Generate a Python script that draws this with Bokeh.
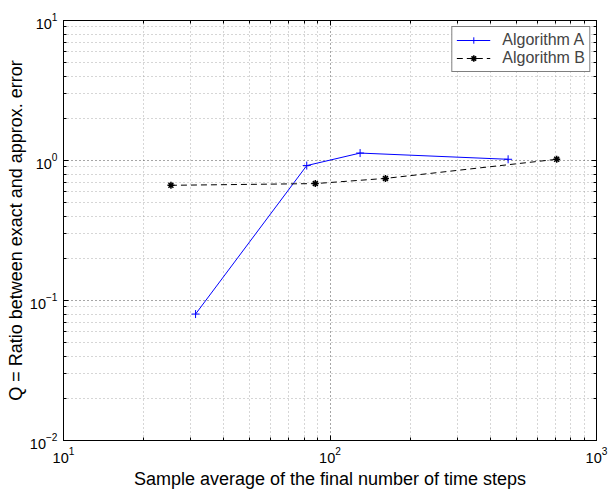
from bokeh.plotting import figure
from bokeh.models import LogAxis, FixedTicker, Legend, LegendItem, Range1d
from bokeh.embed import file_html
from bokeh.resources import INLINE

# Data
alg_a_x = [31.3, 81.8, 129.7, 466.0]
alg_a_y = [0.080, 0.92, 1.13, 1.02]
alg_b_x = [25.3, 88.1, 161.5, 709.0]
alg_b_y = [0.665, 0.684, 0.745, 1.02]

x_major = [10, 100, 1000]
x_minor = [20, 30, 40, 50, 60, 70, 80, 90, 200, 300, 400, 500, 600, 700, 800, 900]
y_major = [0.01, 0.1, 1, 10]
y_minor = [0.02, 0.03, 0.04, 0.05, 0.06, 0.07, 0.08, 0.09,
           0.2, 0.3, 0.4, 0.5, 0.6, 0.7, 0.8, 0.9,
           2, 3, 4, 5, 6, 7, 8, 9]

x_label = "Sample average of the final number of time steps"
y_label = "Q = Ratio between exact and approx. error"
legend_labels = ["Algorithm A", "Algorithm B"]

FONT = "Liberation Sans"

p = figure(width=611, height=491, x_axis_type="log", y_axis_type="log",
           x_range=Range1d(10, 1000), y_range=Range1d(0.01, 10),
           output_backend="svg", toolbar_location=None,
           min_border_left=63, min_border_right=15, min_border_top=20, min_border_bottom=48)

p.outline_line_color = "black"
p.outline_line_width = 1
p.background_fill_color = "white"
p.border_fill_color = "white"

def xt():
    return FixedTicker(ticks=x_major, minor_ticks=x_minor)

def yt():
    return FixedTicker(ticks=y_major, minor_ticks=y_minor)

for ax in p.xaxis + p.yaxis:
    ax.major_tick_in = 5
    ax.major_tick_out = 0
    ax.minor_tick_in = 3
    ax.minor_tick_out = 0
    ax.axis_line_color = "black"
    ax.major_tick_line_color = "black"
    ax.minor_tick_line_color = "black"
    ax.major_label_text_font = FONT
    ax.major_label_text_font_size = "14.5px"
    ax.major_label_text_color = "black"
    ax.axis_label_text_font = FONT
    ax.axis_label_text_font_size = "18px"
    ax.axis_label_text_font_style = "normal"
    ax.axis_label_text_color = "black"

p.xaxis.axis_label = x_label
p.yaxis.axis_label = y_label
p.xaxis.ticker = xt()
p.yaxis.ticker = yt()
p.xaxis.major_label_standoff = 6
p.xaxis.axis_label_standoff = 3
p.yaxis.major_label_standoff = 6
p.yaxis.axis_label_standoff = 1

# Right and top axes (ticks only)
for loc, tk in [("right", yt()), ("above", xt())]:
    ax = LogAxis(ticker=tk)
    ax.major_tick_in = 5
    ax.major_tick_out = 0
    ax.minor_tick_in = 3
    ax.minor_tick_out = 0
    ax.major_label_text_font_size = "0px"
    ax.major_label_text_color = None
    ax.axis_line_color = "black"
    ax.major_label_standoff = 0
    p.add_layout(ax, loc)

p.xgrid[0].ticker = xt()
p.ygrid[0].ticker = yt()
for g in [p.xgrid[0], p.ygrid[0]]:
    g.grid_line_color = "black"
    g.grid_line_dash = "1 3"
    g.grid_line_alpha = 0.7
    g.minor_grid_line_color = "#999999"
    g.minor_grid_line_dash = "1 3"
    g.minor_grid_line_alpha = 0.8

la = p.line(alg_a_x, alg_a_y, line_color="#0000ff", line_width=1)
ma = p.scatter(alg_a_x, alg_a_y, marker="cross", size=8, line_color="#0000ff", line_width=1)
lb = p.line(alg_b_x, alg_b_y, line_color="black", line_width=1, line_dash="6 4")
mb = p.scatter(alg_b_x, alg_b_y, marker="asterisk", size=7, line_color="black", line_width=1.5)

legend = Legend(items=[LegendItem(label=legend_labels[0], renderers=[la, ma]),
                       LegendItem(label=legend_labels[1], renderers=[lb, mb])],
                location="top_right")
legend.margin = 6
legend.padding = 4
legend.spacing = 0
legend.border_line_color = "black"
legend.border_line_width = 1.5
legend.background_fill_alpha = 1
legend.label_text_font = FONT
legend.label_text_font_size = "16px"
legend.label_height = 16
legend.glyph_height = 16
legend.glyph_width = 34
legend.label_standoff = 12
p.add_layout(legend)

open("out.html", "w").write(file_html(p, INLINE))
